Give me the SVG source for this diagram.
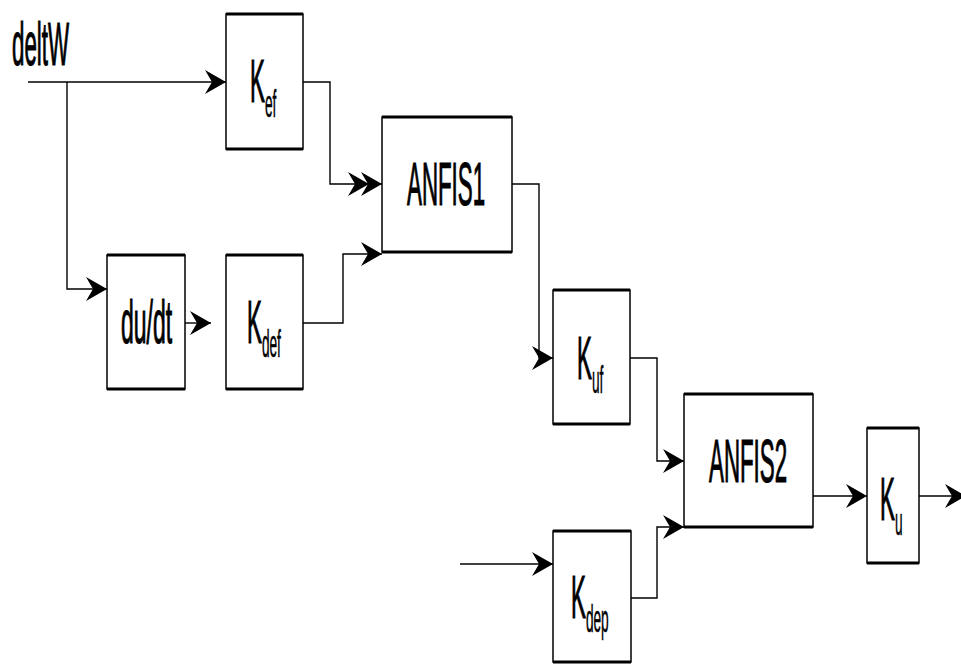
<svg xmlns="http://www.w3.org/2000/svg" width="961" height="664" viewBox="0 0 961 664">
<style>
.box{fill:#fff;stroke:#000;stroke-width:1.5}
.edge{stroke:#000;stroke-width:3}
.lbl{font-family:"Liberation Sans",Arial,sans-serif;font-size:62px;fill:#000;stroke:#000;stroke-width:1.2}
.sub{font-size:38px;stroke-width:0.5}
.wire{fill:none;stroke:#000;stroke-width:1.4}
</style>
<defs>
<marker id="arr" markerUnits="userSpaceOnUse" viewBox="0 0 21 24" refX="21" refY="12" markerWidth="21" markerHeight="24" orient="auto">
<path d="M0,0 L21,12 L0,24 L7,12 Z" fill="#000"/>
</marker>
<marker id="arr2" markerUnits="userSpaceOnUse" viewBox="0 0 34 24" refX="34" refY="12" markerWidth="34" markerHeight="24" orient="auto">
<path d="M0,0 L21,12 L0,24 L7,12 Z" fill="#000"/>
<path d="M13,0 L34,12 L13,24 L20,12 Z" fill="#000"/>
</marker>
</defs>
<text class="lbl" transform="translate(12,65) scale(0.36,1)">deltW</text>
<g id="connectors">
<path class="wire" d="M28,82 H226" marker-end="url(#arr)"/>
<path class="wire" d="M67,82 V289 H107" marker-end="url(#arr)"/>
<path class="wire" d="M185,323 H211" marker-end="url(#arr)"/>
<path class="wire" d="M303,82 H330 V184 H382" marker-end="url(#arr2)"/>
<path class="wire" d="M303,323 H343 V254 H382" marker-end="url(#arr)"/>
<path class="wire" d="M512,184 H539 V358 H553" marker-end="url(#arr)"/>
<path class="wire" d="M630,358 H657 V461 H684" marker-end="url(#arr)"/>
<path class="wire" d="M631,598 H657 V527 H684" marker-end="url(#arr)"/>
<path class="wire" d="M460,564 H553" marker-end="url(#arr)"/>
<path class="wire" d="M813,496 H867" marker-end="url(#arr)"/>
<path class="wire" d="M919,496 H966" marker-end="url(#arr)"/>
</g>
<g id="Kef">
<rect class="box" x="226" y="14" width="77" height="135"/>
<path class="edge" d="M226,14 H303 M226,149 H303"/>
<text class="lbl" transform="translate(250,102) scale(0.36,1)">K<tspan class="sub" dy="15">ef</tspan></text>
</g>
<g id="dudt">
<rect class="box" x="107" y="255" width="78" height="134"/>
<path class="edge" d="M107,255 H185 M107,389 H185"/>
<text class="lbl" transform="translate(121,343) scale(0.37,1)">du/dt</text>
</g>
<g id="Kdef">
<rect class="box" x="226" y="255" width="77" height="134"/>
<path class="edge" d="M226,255 H303 M226,389 H303"/>
<text class="lbl" transform="translate(247,343) scale(0.36,1)">K<tspan class="sub" dy="14">def</tspan></text>
</g>
<g id="ANFIS1">
<rect class="box" x="382" y="117" width="130" height="135"/>
<path class="edge" d="M382,117 H512 M382,252 H512"/>
<text class="lbl" transform="translate(407,205) scale(0.36,1)">ANFIS1</text>
</g>
<g id="Kuf">
<rect class="box" x="553" y="290" width="77" height="134"/>
<path class="edge" d="M553,290 H630 M553,424 H630"/>
<text class="lbl" transform="translate(577,379) scale(0.36,1)">K<tspan class="sub" dy="14">uf</tspan></text>
</g>
<g id="ANFIS2">
<rect class="box" x="684" y="394" width="129" height="133"/>
<path class="edge" d="M684,394 H813 M684,527 H813"/>
<text class="lbl" transform="translate(709,482) scale(0.36,1)">ANFIS2</text>
</g>
<g id="Ku">
<rect class="box" x="867" y="428" width="52" height="135"/>
<path class="edge" d="M867,428 H919 M867,563 H919"/>
<text class="lbl" transform="translate(880,520) scale(0.36,1)">K<tspan class="sub" dy="15">u</tspan></text>
</g>
<g id="Kdep">
<rect class="box" x="553" y="531" width="78" height="131"/>
<path class="edge" d="M553,531 H631 M553,662 H631"/>
<text class="lbl" transform="translate(571,618) scale(0.36,1)">K<tspan class="sub" dy="14">dep</tspan></text>
</g>
</svg>
